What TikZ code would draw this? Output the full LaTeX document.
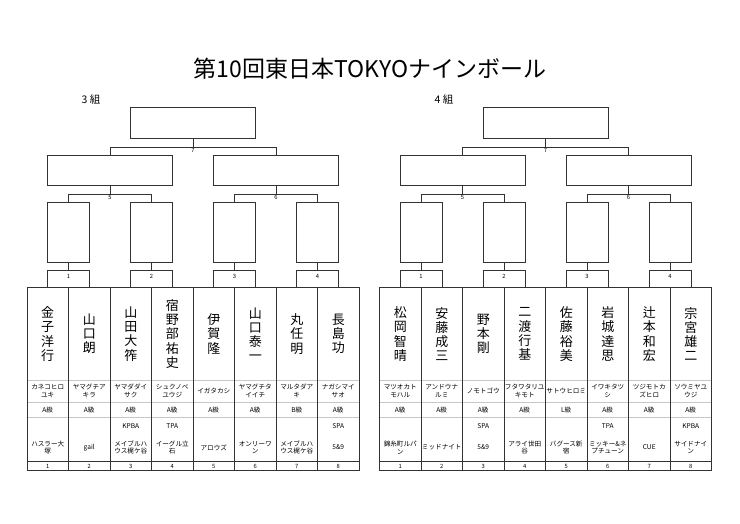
\documentclass[tikz,border=0pt]{standalone}
\usepackage{fontspec}
\setmainfont{Noto Sans CJK JP}
\tikzset{
  box/.style={draw=black!80,line width=0.7pt,inner sep=0pt,rectangle},
  conn/.style={draw=black!80,line width=0.7pt},
  grid/.style={draw=black!80,line width=0.7pt},
  lightgrid/.style={draw=black!22,line width=0.6pt},
  lab/.style={inner sep=0.8pt,font=\fontsize{5.8}{6}\selectfont},
  nm/.style={align=center,inner sep=0pt,font=\fontsize{13}{14.2}\selectfont},
  sm/.style={align=center,inner sep=0pt,font=\fontsize{6.6}{7.8}\selectfont},
}
\newcommand\mybracket[2]{%
\begin{scope}[xshift=#1]
\node[box,minimum width=125pt,minimum height=31pt] (F#2) at (193,122.5) {};
\node[box,minimum width=125pt,minimum height=30pt] (SA#2) at (110,170) {};
\node[box,minimum width=125pt,minimum height=30pt] (SB#2) at (276,170) {};
\foreach \k/\cx in {1/68.5,2/151.5,3/234.5,4/317.5}{
  \node[box,minimum width=42pt,minimum height=60pt] (Q#2-\k) at (\cx,232) {};
  \node[box,minimum width=42pt,minimum height=17pt] (M#2-\k) at (\cx,278.5) {};
  \node[lab] (ML#2-\k) at (\cx,276.5) {\k};
  \draw[conn] (Q#2-\k.south) -- (M#2-\k.north);
}
\draw[conn] (F#2.south) -- ++(0,9) coordinate (J7#2);
\draw[conn] (SA#2.north) |- (J7#2) -| (SB#2.north);
\node[lab,below] (L7#2) at (J7#2) {7};
\draw[conn] (SA#2.south) -- ++(0,9) coordinate (J5#2);
\draw[conn] (Q#2-1.north) |- (J5#2) -| (Q#2-2.north);
\node[lab,below] (L5#2) at (J5#2) {5};
\draw[conn] (SB#2.south) -- ++(0,9) coordinate (J6#2);
\draw[conn] (Q#2-3.north) |- (J6#2) -| (Q#2-4.north);
\node[lab,below] (L6#2) at (J6#2) {6};
% table
\draw[lightgrid] (27,380) -- (359,380);
\draw[lightgrid] (27,402.7) -- (359,402.7);
\draw[lightgrid] (27,417.7) -- (359,417.7);
\draw[grid] (27,461.7) -- (359,461.7);
\foreach \c in {1,...,7}{\draw[grid] ({27+41.5*\c},287) -- ({27+41.5*\c},470);}
\draw[grid] (27,287) rectangle (359,470);
\end{scope}}
\begin{document}
\begin{tikzpicture}[x=1pt,y=-1pt]
\useasboundingbox (0,0) rectangle (740,523);
\node[inner sep=0pt,font=\fontsize{23}{26}\selectfont] (title) at (370,69) {第10回東日本TOKYOナインボール};
\node[inner sep=0pt,font=\fontsize{10.5}{12}\selectfont] (g3) at (91,99.5) {3 組};
\node[inner sep=0pt,font=\fontsize{10.5}{12}\selectfont] (g4) at (444,99.5) {4 組};
\mybracket{0pt}{3}
\mybracket{352.5pt}{4}
\begin{scope}
\foreach \i/\nm/\rd/\gr/\og/\cl in {
 1/{金\\子\\洋\\行}/{カネコヒロ\\ユキ}/A級/{}/{ハスラー大\\塚},
 2/{山\\口\\朗}/{ヤマグチア\\キラ}/A級/{}/{gail},
 3/{山\\田\\大\\筰}/{ヤマダダイ\\サク}/A級/KPBA/{メイブルハ\\ウス梶ケ谷},
 4/{宿\\野\\部\\祐\\史}/{シュクノベ\\ユウジ}/A級/TPA/{イーグル立\\石},
 5/{伊\\賀\\隆}/{イガタカシ}/A級/{}/{アロウズ},
 6/{山\\口\\泰\\一}/{ヤマグチタ\\イイチ}/A級/{}/{オンリーワ\\ン},
 7/{丸\\任\\明}/{マルタダア\\キ}/B級/{}/{メイブルハ\\ウス梶ケ谷},
 8/{長\\島\\功}/{ナガシマイ\\サオ}/A級/SPA/{5\&9}}{
  \pgfmathsetmacro\cx{27+41.5*(\i-0.5)}
  \node[nm] (N3-\i) at (\cx,334) {\nm};
  \node[sm] (R3-\i) at (\cx,391) {\rd};
  \node[sm] (G3-\i) at (\cx,410) {\gr};
  \node[sm] (O3-\i) at (\cx,426) {\og};
  \node[sm] (C3-\i) at (\cx,447.5) {\cl};
  \node[lab] (D3-\i) at (\cx,466) {\i};
}
\foreach \i/\nm/\rd/\gr/\og/\cl in {
 1/{松\\岡\\智\\晴}/{マツオカト\\モハル}/A級/{}/{錦糸町ルパ\\ン},
 2/{安\\藤\\成\\三}/{アンドウナ\\ルミ}/A級/{}/{ミッドナイト},
 3/{野\\本\\剛}/{ノモトゴウ}/A級/SPA/{5\&9},
 4/{二\\渡\\行\\基}/{フタワタリユ\\キモト}/A級/{}/{アライ世田\\谷},
 5/{佐\\藤\\裕\\美}/{サトウヒロミ}/L級/{}/{バグース新\\宿},
 6/{岩\\城\\達\\思}/{イワキタツ\\シ}/A級/TPA/{ミッキー\&ネ\\プチューン},
 7/{辻\\本\\和\\宏}/{ツジモトカ\\ズヒロ}/A級/{}/{CUE},
 8/{宗\\宮\\雄\\二}/{ソウミヤユ\\ウジ}/A級/KPBA/{サイドナイ\\ン}}{
  \pgfmathsetmacro\cx{352.5+27+41.5*(\i-0.5)}
  \node[nm] (N4-\i) at (\cx,334) {\nm};
  \node[sm] (R4-\i) at (\cx,391) {\rd};
  \node[sm] (G4-\i) at (\cx,410) {\gr};
  \node[sm] (O4-\i) at (\cx,426) {\og};
  \node[sm] (C4-\i) at (\cx,447.5) {\cl};
  \node[lab] (D4-\i) at (\cx,466) {\i};
}
\end{scope}
\end{tikzpicture}
\end{document}
